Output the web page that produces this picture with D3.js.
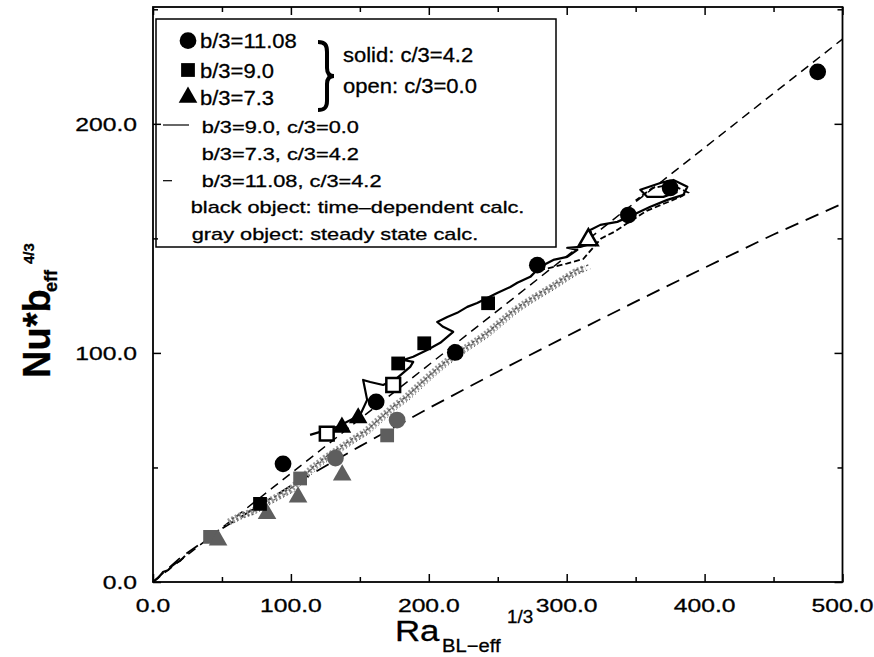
<!DOCTYPE html>
<html><head><meta charset="utf-8">
<script src="https://cdn.jsdelivr.net/npm/d3@7"></script>
<style>
body{margin:0;background:#fff}
svg{display:block}
text{font-family:"Liberation Sans",Arial,Helvetica,sans-serif;fill:#000;stroke:#000;stroke-width:0.3}
</style>
</head><body>
<svg id="c" width="874" height="657"></svg>
<script>
// ---------- data ----------
const xTicks=[0,100,200,300,400,500];
const xTickLabels=["0.0","100.0","200.0","300.0","400.0","500.0"];
const xMinor=[50,150,250,350,450];
const yTicks=[0,100,200];
const yTickLabels=["0.0","100.0","200.0"];
const yMinor=[50,150,250];

// time-dependent (black) markers, solid = c/3=4.2
const circlesBlack=[[94.3,51.6],[161.8,78.6],[219.2,100.2],[278.7,138.3],[344.7,160.2],[375,172],[482,222.7]];
const squaresBlack=[[77.6,34.1],[177.8,95.4],[196.7,104.2],[243,121.7]];
const trianglesBlack=[[137,67.5],[148.8,71.6]];
// open = c/3=0.0
const squaresOpen=[[126,64.8],[174.2,86]];
const trianglesOpen=[[315.7,149.3]];
// steady state (gray) markers
const circlesGray=[[132.3,54.1],[177,70.7]];
const squaresGray=[[41.4,19.7],[106.7,45.2],[169.8,64.0]];
const trianglesGray=[[47.2,18.3],[82.7,29.8],[105.2,37.1],[137.2,46.7]];

// fitted reference lines
const fitSteep=[[0,0],[500,237]];
const fitLower=[[0,0],[20,10.7],[50,23.3],[100,42.0],[150,59.2],[200,75.9],[250,91.8],[300,107.3],[350,122.4],[400,137.2],[450,151.7],[500,165.2]];

// time-dependent trace b/3=9.0, c/3=0.0 (solid)
const traceBlack=[[113.9,64.2],[133.5,67.7],[150.2,72.9],[155.3,79.5],[152.4,88.2],[157.5,87.3],[166.9,86.0],[177.1,89.1],[186.5,93.9],[188.7,96.1],[181.4,96.9],[188.7,98.3],[198.8,101.3],[208.3,104.4],[217.7,109.2],[210.4,111.4],[206.1,113.5],[213.4,115.7],[220.6,117.5],[227.9,120.1],[235.1,121.8],[249.6,126.2],[259.1,128.8],[264.2,130.6],[273.6,133.2],[280.8,137.6],[290.3,140.6],[300.4,141.9],[307.7,145.0],[300.4,145.9],[309.9,146.3],[319.3,148.0],[317.1,153.7],[324.4,155.9],[336.7,157.2],[348.3,160.3],[360.7,163.8],[373.0,166.8],[384.6,169.0],[387.5,172.5],[377.4,175.5],[367.9,174.2],[353.4,171.2],[358.5,168.1],[370.1,168.1],[380.3,170.3]];
// time-dependent trace b/3=11.08, c/3=4.2 (short dashes)
const traceDash=[[280,136],[290,137.5],[300,139],[312,141],[325,150],[335,153],[345,157],[358,162],[370,165],[382,168],[388,170],[376,173.5],[362,172],[350,166.5]];
// start of the trace near origin
const traceOrigin=[[0,0],[3.6,1.7],[7.3,4.4],[10.9,5.2],[13.8,7.0],[16.7,8.3],[19.6,9.2],[23.2,11.4]];
// steady-state cloud (gray)
const traceGray=[[54.9,26.2],[63.1,28.8],[71.8,30.6],[79.1,33.6],[88.5,36.7],[99.4,40.2],[108.1,45.4],[115.4,49.8],[124.8,54.1],[135.7,58.5],[144.4,62.0],[153.8,65.5],[163.3,70.7],[173.4,76.0],[182.9,80.3],[192.3,85.6],[201.0,90.4],[209.7,94.8],[219.2,99.1],[230.0,103.5],[240.9,107.9],[251.8,113.5],[260.5,117.9],[270.0,121.8],[279.4,125.3],[288.1,128.4],[296.8,131.9],[306.2,135.4],[313.5,137.1]];

const legendMarkers=["circle","square","triangle"];
const legendMarkerLabels=["b/3=11.08","b/3=9.0","b/3=7.3"];
const legendFillLabels=["solid: c/3=4.2","open: c/3=0.0"];
const legendLineLabels=["b/3=9.0, c/3=0.0","b/3=7.3, c/3=4.2","b/3=11.08, c/3=4.2"];
const legendNotes=["black object: time\u2013dependent calc.","gray object: steady state calc."];

// ---------- drawing ----------
const svg=d3.select("#c");
const x=d3.scaleLinear().domain([0,500]).range([153,842.5]);
const y=d3.scaleLinear().domain([0,251]).range([582,7]);
const GRAY="#5e5e5e";

function stext(p,px,py,s,size,sx,o={}){
  const t=p.append("text").attr("transform",`translate(${px},${py}) scale(${sx},1)`).attr("font-size",size).text(s);
  if(o.anchor)t.attr("text-anchor",o.anchor);
  if(o.weight)t.attr("font-weight",o.weight);
  return t;
}

const plot=svg.append("g");
const line=d3.line().x(d=>x(d[0])).y(d=>y(d[1]));

// fit lines
plot.append("path").attr("d",line(fitSteep)).attr("fill","none").attr("stroke","#000").attr("stroke-width",1.5).attr("stroke-dasharray","9,6");
plot.append("path").attr("d",line(fitLower)).attr("fill","none").attr("stroke","#000").attr("stroke-width",1.8).attr("stroke-dasharray","14,8");

// gray steady-state band (speckled)
[["#9a9a9a",7,"2,2","translate(0,0)"],["#555",1.4,"3,3","translate(3,-3)"],["#666",1.4,"2,4","translate(-3,3)"],["#444",1,"1,3","translate(5,1)"]]
  .forEach(([c,w,da,tr])=>plot.append("path").attr("d",line(traceGray)).attr("fill","none").attr("stroke",c)
    .attr("stroke-width",w).attr("stroke-dasharray",da).attr("transform",tr));
// black traces
plot.append("path").attr("d",line(traceOrigin)).attr("fill","none").attr("stroke","#000").attr("stroke-width",2);
plot.append("path").attr("d",line(traceDash)).attr("fill","none").attr("stroke","#000").attr("stroke-width",1.8).attr("stroke-dasharray","6,3");
plot.append("path").attr("d",line(traceBlack)).attr("fill","none").attr("stroke","#000").attr("stroke-width",2.2).attr("stroke-linejoin","round");

// markers
const sym={circle:d3.symbolCircle,square:d3.symbolSquare,triangle:d3.symbolTriangle};
const sizes={circle:220,square:190,triangle:150};
function markers(data,shape,fill,stroke,sw){
  plot.selectAll(null).data(data).enter().append("path")
    .attr("d",d3.symbol().type(sym[shape]).size(sizes[shape]))
    .attr("transform",d=>`translate(${x(d[0])},${y(d[1])})`)
    .attr("fill",fill).attr("stroke",stroke).attr("stroke-width",sw);
}
markers(squaresGray,"square",GRAY,"none",0);
markers(trianglesGray,"triangle",GRAY,"none",0);
markers(circlesGray,"circle",GRAY,"none",0);
markers(squaresBlack,"square","#000","none",0);
markers(trianglesBlack,"triangle","#000","none",0);
markers(circlesBlack,"circle","#000","none",0);
markers(squaresOpen,"square","#fff","#000",2.5);
markers(trianglesOpen,"triangle","#fff","#000",2.5);

// legend
const lg=svg.append("g");
lg.append("rect").attr("x",156).attr("y",19).attr("width",400).attr("height",228).attr("fill","#fff").attr("stroke","#000").attr("stroke-width",1.5);
const lmY=[40.7,70,97.3];
legendMarkers.forEach((m,i)=>{
  lg.append("path").attr("d",d3.symbol().type(sym[m]).size(sizes[m]))
    .attr("transform",`translate(188,${lmY[i]})`).attr("fill","#000");
  stext(lg,200,lmY[i]+7.5,legendMarkerLabels[i],20,1.1);
});
lg.append("path").attr("d","M318,42 C325,42 327,45 327,52 L327,68 C327,73 329,76 334,76 C329,76 327,79 327,84 L327,101 C327,107 325,110 318,110")
  .attr("fill","none").attr("stroke","#000").attr("stroke-width",4);
stext(lg,343,62,legendFillLabels[0],20,1.1);
stext(lg,343,93,legendFillLabels[1],20,1.1);
const llY=[133.3,160,186.7];
legendLineLabels.forEach((s,i)=>stext(lg,201.7,llY[i],s,17,1.28));
lg.append("line").attr("x1",163).attr("x2",189).attr("y1",125).attr("y2",125).attr("stroke","#000").attr("stroke-width",1.2);
lg.append("line").attr("x1",163).attr("x2",172).attr("y1",180.7).attr("y2",180.7).attr("stroke","#000").attr("stroke-width",1.2);
stext(lg,190.7,213.3,legendNotes[0],17,1.28);
stext(lg,191.7,240,legendNotes[1],17,1.28);

// axes (ticks inward on all four sides)
const ax=svg.append("g");
function axis(gen,tr,vals,len){
  const g=ax.append("g").attr("transform",tr).call(gen.tickValues(vals).tickSize(-len).tickFormat(""));
  g.select(".domain").remove();
  g.selectAll("line").attr("stroke","#000").attr("stroke-width",1.5);
}
axis(d3.axisBottom(x),"translate(0,582)",xTicks,8);
axis(d3.axisBottom(x),"translate(0,582)",xMinor,5);
axis(d3.axisTop(x),"translate(0,7)",xTicks,8);
axis(d3.axisTop(x),"translate(0,7)",xMinor,5);
axis(d3.axisLeft(y),"translate(153,0)",yTicks,8);
axis(d3.axisLeft(y),"translate(153,0)",yMinor,5);
axis(d3.axisRight(y),"translate(842.5,0)",yTicks,8);
axis(d3.axisRight(y),"translate(842.5,0)",yMinor,5);
ax.append("rect").attr("x",x(0)).attr("y",y(251)).attr("width",x(500)-x(0)).attr("height",y(0)-y(251))
  .attr("fill","none").attr("stroke","#000").attr("stroke-width",1.8);

// tick labels
xTicks.forEach((v,i)=>stext(ax,x(v),612,xTickLabels[i],19,1.3,{anchor:"middle"}));
yTicks.forEach((v,i)=>stext(ax,137,y(v)+6.8,yTickLabels[i],19,1.3,{anchor:"end"}));

// axis titles
stext(svg,395,641,"Ra",29,1.2);
stext(svg,442,652,"BL\u2212eff",18,1.12);
stext(svg,507,623,"1/3",18,1.05);
const yl=svg.append("g");
yl.append("text").attr("transform","translate(50,378) rotate(-90)").attr("font-size",38).attr("font-weight","bold").text("Nu*b");
yl.append("text").attr("transform","translate(57,292) rotate(-90)").attr("font-size",18).attr("font-weight","bold").text("eff");
yl.append("text").attr("transform","translate(34,264) rotate(-90)").attr("font-size",15).attr("font-weight","bold").text("4/3");
</script>
</body></html>
